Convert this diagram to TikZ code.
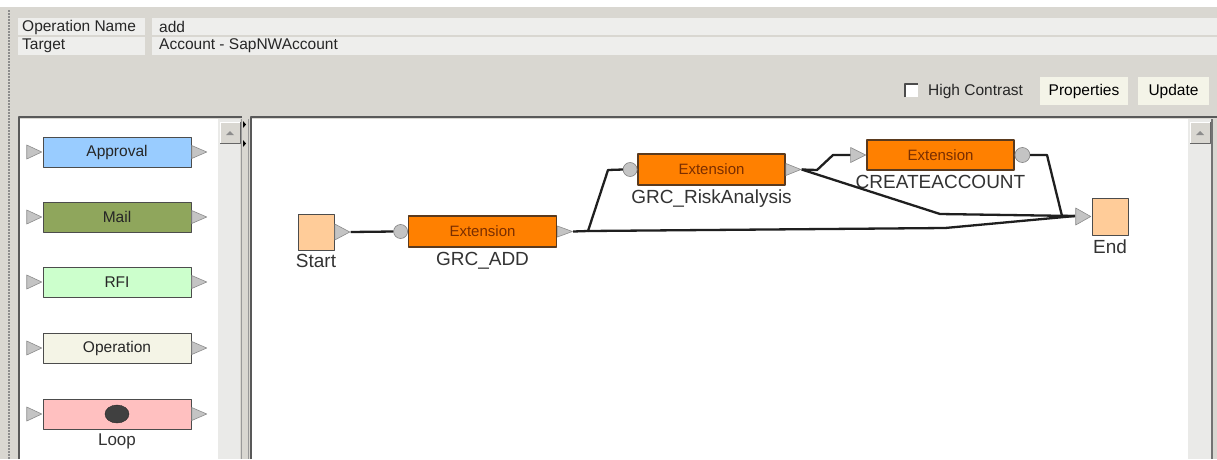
\documentclass[tikz,border=0pt]{standalone}
\usepackage{fontspec}
\setmainfont{Liberation Sans}
\usetikzlibrary{shapes.geometric,positioning}
\definecolor{panelgray}{HTML}{D9D7D1}
\definecolor{fieldgray}{HTML}{EEEEEC}
\definecolor{barshade}{HTML}{EAEAE8}
\definecolor{btncream}{HTML}{F4F4E8}
\definecolor{extorange}{HTML}{FF8000}
\definecolor{extedge}{HTML}{5A3A1E}
\definecolor{exttext}{HTML}{7A2E00}
\definecolor{termpeach}{HTML}{FFCC99}
\definecolor{apblue}{HTML}{99CCFF}
\definecolor{mailolive}{HTML}{8FA65C}
\definecolor{rfimint}{HTML}{CCFFCC}
\definecolor{opcream}{HTML}{F4F4E6}
\definecolor{looppink}{HTML}{FFC0C0}
\definecolor{portgray}{HTML}{C4C4C4}

\begin{document}
\begin{tikzpicture}[x=1pt,y=-1pt,line join=round,
  every node/.style={inner sep=1pt,font=\fontsize{15.5}{17}\selectfont},
  uitext/.style={anchor=west,text=black!85},
  tool/.style={rectangle,minimum width=148pt,minimum height=30pt,draw=black!70,line width=0.9pt,text=black!85},
  ext/.style={rectangle,minimum width=148pt,minimum height=31pt,fill=extorange,draw=extedge,line width=1.2pt,text=exttext,font=\fontsize{15}{17}\selectfont},
  term/.style={rectangle,minimum width=36pt,minimum height=36pt,fill=termpeach,draw=black!70,line width=1pt},
  tport/.style={isosceles triangle,isosceles triangle stretches,minimum width=14pt,minimum height=15pt,inner sep=0pt,fill=portgray,draw=black!45,line width=0.6pt},
  cport/.style={circle,minimum size=14pt,inner sep=0pt,fill=portgray,draw=black!50,line width=0.6pt},
  caption/.style={font=\fontsize{19}{21}\selectfont,text=black!80},
  wire/.style={draw=black!88,line width=2.3pt}]
  \useasboundingbox (0,0) rectangle (1217,459);
  \fill[panelgray] (0,0) rectangle (1217,459);
  \fill[white] (0,0) rectangle (1217,7);
  \draw[black!45,dash pattern=on 1.5pt off 1.5pt,line width=1.6pt] (9,10) -- (9,459);
  % header fields
  \fill[fieldgray] (18,18) rectangle (145,35);
  \fill[fieldgray] (18,37) rectangle (145,55);
  \fill[fieldgray] (152,18) rectangle (1217,35);
  \fill[fieldgray] (152,37) rectangle (1217,55);
  \node[uitext] (opname) at (21,27) {Operation Name};
  \node[uitext] (opval) at (158,27) {add};
  \node[uitext] (tgtname) at (21,46) {Target};
  \node[uitext] (tgtval) at (158,46) {Account - SapNWAccount};
  % toolbar
  \fill[white] (905,84) rectangle (918,97);
  \draw[black!70,line width=1.2pt] (905,97) -- (905,84) -- (918,84);
  \node[uitext] (hc) at (927,91) {High Contrast};
  \fill[btncream] (1040,77) rectangle (1128,105);
  \node (props) at (1084,91) {Properties};
  \fill[btncream] (1138,77) rectangle (1209,105);
  \node (upd) at (1173.5,91) {Update};
  % panels
  \fill[white] (20,119) rectangle (218,459);
  \fill[barshade] (218,119) rectangle (240,459);
  \fill[white] (252,119) rectangle (1188,459);
  \fill[barshade] (1188,119) rectangle (1211,459);
  \draw[black!65,line width=1.6pt] (19,459) -- (19,117) -- (242,117);
  \draw[black!65,line width=1.6pt] (251,459) -- (251,117) -- (1217,117);
  \draw[black!55,line width=1.2pt] (1212,119) -- (1212,459);
  \draw[black!40,line width=0.8pt] (241,119) -- (241,459);
  \draw[black!40,line width=0.8pt] (248,119) -- (248,459);
  \fill[black] (243,121) -- (246,124.5) -- (243,128) -- cycle;
  \fill[black] (243,140) -- (246,143.5) -- (243,147) -- cycle;
  \foreach \bx in {220,1190}{
    \fill[panelgray] (\bx,122) rectangle ({\bx+20},143);
    \draw[black!60,line width=1pt] (\bx,143) -- ({\bx+20},143) -- ({\bx+20},122);
    \draw[white,line width=1pt] (\bx,143) -- (\bx,122) -- ({\bx+20},122);
    \fill[black!45] ({\bx+6},135) -- ({\bx+10},131) -- ({\bx+14},135) -- cycle;
  }
  % palette
  \foreach \yy/\lab/\col in {152/Approval/apblue,217/Mail/mailolive,282/RFI/rfimint,348/Operation/opcream,414//looppink}{
    \node[tool,fill=\col] (pal\yy) at (117,\yy) {\lab};
    \node[tport,anchor=east] (pal\yy in) at (pal\yy.west) {};
    \node[tport,anchor=west,minimum width=13pt] (pal\yy out) at (pal\yy.east) {};
  }
  \node[ellipse,fill=black!75,draw=black!85,minimum width=24pt,minimum height=18pt,inner sep=0pt] (loopdot) at (pal414) {};
  \node[caption,font=\fontsize{17}{19}\selectfont,below=3pt of pal414] (looplab) {Loop};
  % workflow
  \node[term] (start) at (316,232) {};
  \node[caption,below=3pt of start] (startlab) {Start};
  \node[ext] (add) at (482.5,231.5) {Extension};
  \node[caption,below=3pt of add] (addlab) {GRC\_ADD};
  \node[ext,minimum width=147pt] (risk) at (711.5,169.5) {Extension};
  \node[caption,below=3pt of risk] (risklab) {GRC\_RiskAnalysis};
  \node[ext,minimum width=147pt,minimum height=30pt] (create) at (940.5,155) {Extension};
  \node[caption,below=3pt of create] (createlab) {CREATEACCOUNT};
  \node[term,minimum height=37pt] (end) at (1110,216.5) {};
  \node[caption,below=3pt of end] (endlab) {End};
  \node[tport,anchor=west,minimum width=16pt] (startout) at (start.east) {};
  \node[cport,anchor=east] (addin) at (add.west) {};
  \node[tport,anchor=west,minimum width=11pt] (addout) at (add.east) {};
  \node[cport,anchor=east] (riskin) at (risk.west) {};
  \node[tport,anchor=west,minimum width=12pt] (riskout) at (risk.east) {};
  \node[tport,anchor=east,minimum width=15pt] (createin) at (create.west) {};
  \node[cport,minimum size=15pt,anchor=west] (createout) at (create.east) {};
  \coordinate (split) at (588,231);
  \draw[wire] (startout.east) -- (addin.west);
  \draw[wire] (addout.east) -- (split) -- (608,170) -- (riskin.west);
  \draw[wire] (split) -- (945,228) -- (1075,216);
  \draw[wire] (riskout.east) -- (817,170) -- (833,155) -- (createin.west);
  \draw[wire] (riskout.east) -- (940,214) -- (1075,216);
  \draw[wire] (createout.east) -- (1047,155) -- (1062,216) -- (1075,216);
  \node[tport,anchor=east,minimum width=17pt] (endin) at (end.west) {};
\end{tikzpicture}
\end{document}
